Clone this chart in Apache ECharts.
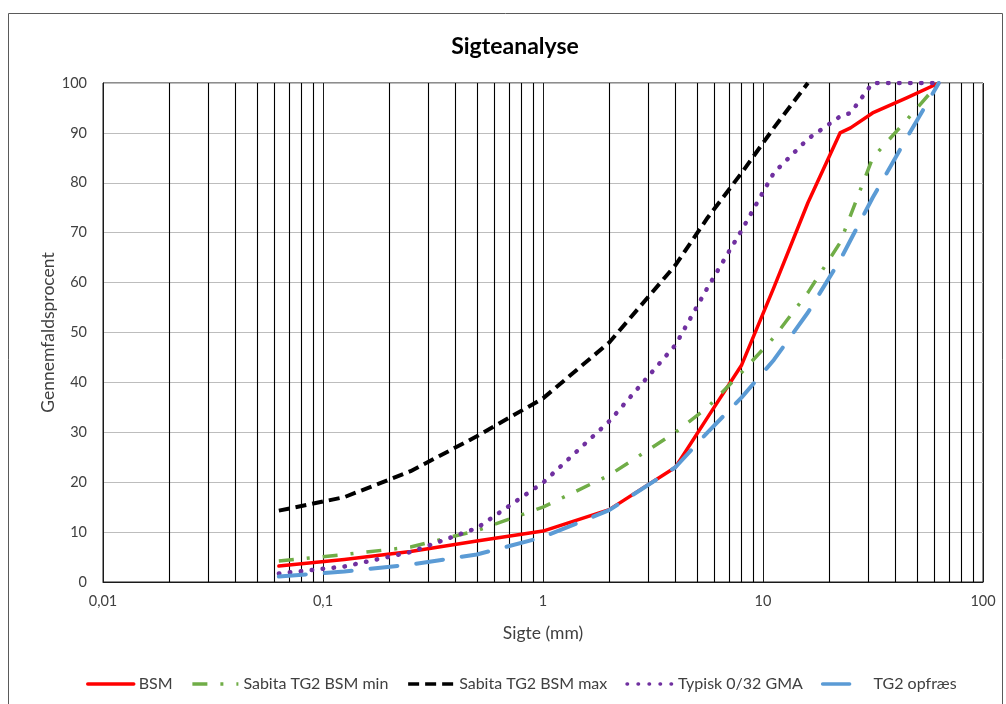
<!DOCTYPE html>
<html>
<head>
<meta charset="utf-8">
<script src="https://cdn.jsdelivr.net/npm/echarts@6/dist/echarts.min.js"></script>
<style>
html,body{margin:0;padding:0;background:#fff;}
#c{width:1006px;height:704px;}
</style>
</head>
<body>
<div id="c"></div>
<script>
// Sieve sizes (mm)
const sieveSizes = [0.063, 0.125, 0.25, 0.5, 1, 2, 4, 5.6, 8, 11.2, 16, 22.4, 25, 31.5, 45, 63];
// Passing percentages per series (null = no point)
const bsm        = [3.2, 4.5, 6.1, 8.2, 10.2, 14.5, 23, 33, 43.5, 59, 76, 90, 91, 94, 97, 100];
const sabitaMin  = [4.2, 5.5, 7.0, 10.3, 15.0, 21.4, 30, 35, 42, 49, 58, 68, null, 85, 92.6, 100];
const sabitaMax  = [14.3, 17.0, 22.2, 29.2, 36.8, 48, 63.5, 73, 82, 91, 100, null, null, null, null, null];
const typisk     = [1.7, 3.1, 6.0, 10.8, 19.9, 32.2, 47.5, 59, 70.5, 82, 88.8, 93.3, 94, 100, 100, 100];
const tg2        = [1.1, 2.1, 3.5, 5.5, 9.0, 14.4, 23, 30, 37, 44.5, 54, 64.5, null, 77, 89, 100];
// Minor vertical grid values on the log axis
const minorGridValues = [0.02,0.03,0.04,0.05,0.06,0.07,0.08,0.09,
                         0.2,0.3,0.4,0.5,0.6,0.7,0.8,0.9,
                         2,3,4,5,6,7,8,9,
                         20,30,40,50,60,70,80,90];
const seriesNames = ['BSM', 'Sabita TG2 BSM min', 'Sabita TG2 BSM max', 'Typisk 0/32 GMA', 'TG2 opfræs'];

const FONT = 'Lato, "Liberation Sans", sans-serif';
function pairs(vals){ return sieveSizes.map((x,i)=>[x, vals[i]]); }

const chart = echarts.init(document.getElementById('c'), null, {renderer:'canvas'});

function lineSeries(name, vals, color, width, dash, cap){
  return {
    name: name, type: 'line', data: pairs(vals),
    showSymbol: false, symbol: 'circle', symbolSize: 0, connectNulls: true, z: 5,
    lineStyle: {color: color, width: width, type: dash, cap: cap || 'butt', join: 'round'},
    itemStyle: {color: color, opacity: 0, borderWidth: 0},
    emphasis: {disabled: true}
  };
}

chart.setOption({
  animation: false,
  backgroundColor: '#fff',
  graphic: [{
    type: 'rect', silent: true, z: -1,
    shape: {x: 8.5, y: 13.5, width: 994, height: 700},
    style: {fill: 'none', stroke: '#5a5a5a', lineWidth: 1}
  }],
  title: {
    text: 'Sigteanalyse', left: 510, top: 30, textAlign: 'center',
    textStyle: {fontFamily: FONT, fontWeight: 'bold', fontSize: 23, color: '#000'}
  },
  legend: {
    data: seriesNames, bottom: 7, left: 81,
    itemWidth: 46, itemHeight: 14, itemGap: 18,
    itemStyle: {opacity: 0, borderWidth: 0},
    lineStyle: {width: 3.5},
    textStyle: {fontFamily: FONT, fontSize: 16, color: '#404040'}
  },
  grid: {left: 103, right: 23, top: 83, bottom: 122, show: true, borderColor: '#1a1a1a', borderWidth: 1, backgroundColor: 'transparent'},
  xAxis: {
    type: 'log', logBase: 10, min: 0.01, max: 100,
    name: 'Sigte (mm)', nameLocation: 'middle', nameGap: 42, nameMoveOverlap: false,
    nameTextStyle: {fontFamily: FONT, fontSize: 17.5, color: '#404040'},
    axisLine: {show: true, lineStyle: {color: '#1a1a1a', width: 1}},
    axisTick: {show: false},
    axisLabel: {margin: 12, fontFamily: FONT, fontSize: 14.5, color: '#404040',
      formatter: v => String(v).replace('.', ',')},
    splitLine: {show: true, lineStyle: {color: '#1a1a1a', width: 1}},
    minorTick: {show: false}, minorSplitLine: {show: false}
  },
  yAxis: {
    type: 'value', min: 0, max: 100, interval: 10,
    name: 'Gennemfaldsprocent', nameLocation: 'middle', nameGap: 46, nameMoveOverlap: false,
    nameTextStyle: {fontFamily: FONT, fontSize: 17.5, color: '#404040'},
    axisLine: {show: true, lineStyle: {color: '#1a1a1a', width: 1}},
    axisTick: {show: false},
    axisLabel: {margin: 16, fontFamily: FONT, fontSize: 14.5, color: '#404040'},
    splitLine: {show: true, lineStyle: {color: '#bdbdbd', width: 1}}
  },
  series: [
    {
      name: 'grid', type: 'line', data: [], z: 1, silent: true,
      markLine: {
        silent: true, symbol: ['none', 'none'], animation: false,
        label: {show: false},
        lineStyle: {color: '#000000', width: 1.1, type: 'solid'},
        emphasis: {disabled: true},
        data: minorGridValues.map(v => ({xAxis: v}))
      }
    },
    lineSeries(seriesNames[0], bsm, '#ff0000', 3.5, 'solid', 'round'),
    lineSeries(seriesNames[1], sabitaMin, '#70ad47', 3.5, [15, 13, 3, 13], 'butt'),
    lineSeries(seriesNames[2], sabitaMax, '#000000', 4, [11, 6], 'butt'),
    lineSeries(seriesNames[3], typisk, '#7030a0', 4.5, [0.5, 10.5], 'round'),
    lineSeries(seriesNames[4], tg2, '#5b9bd5', 4, [27, 19], 'round')
  ]
});
</script>
</body>
</html>
